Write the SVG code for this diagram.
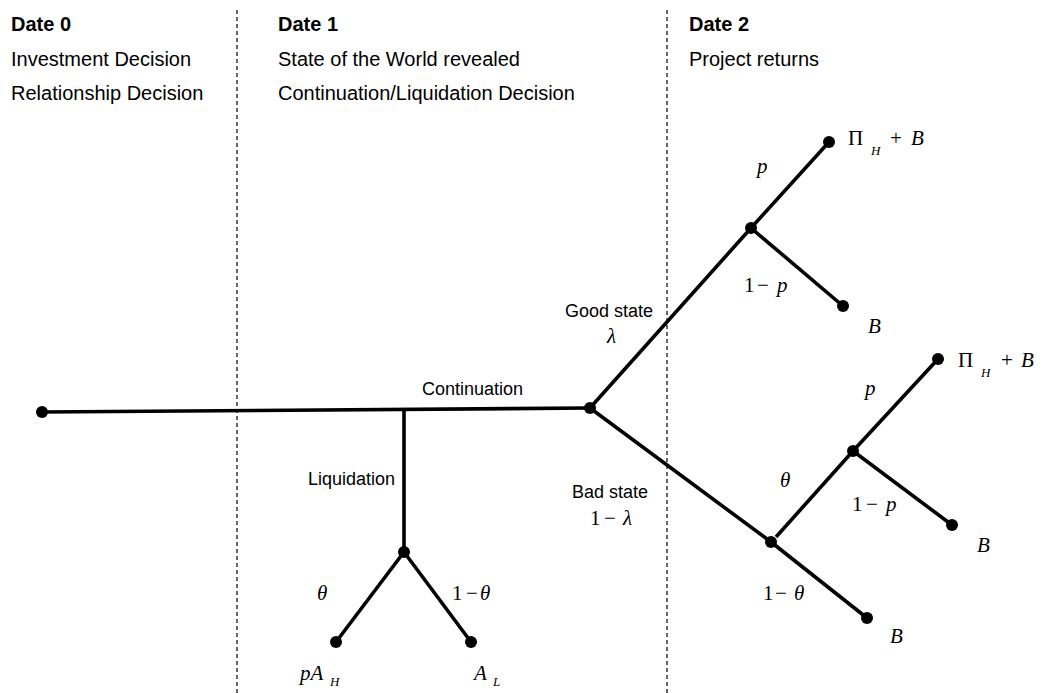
<svg xmlns="http://www.w3.org/2000/svg" width="1051" height="693" viewBox="0 0 1051 693">
<style>
.hd{font-family:"Liberation Sans",Arial,sans-serif;font-size:20px;fill:#000}
.hb{font-weight:bold}
.lb{font-family:"Liberation Sans",Arial,sans-serif;font-size:18px;fill:#000}
.m{font-family:"Liberation Serif","Times New Roman",serif;font-size:21px;font-style:italic;fill:#000}
.up{font-style:normal}
.sub{font-size:13px}
.dash{stroke:#000;stroke-width:1.2;stroke-dasharray:4 3;fill:none}
.e{stroke:#000;stroke-width:3.6;fill:none;stroke-linecap:butt}
.n{fill:#000}
</style>
<rect width="1051" height="693" fill="#fff"/>
<g id="dividers">
<line class="dash" x1="237" y1="10" x2="237" y2="693"/>
<line class="dash" x1="667" y1="10" x2="667" y2="693"/>
</g>
<g id="headers">
<text class="hd hb" x="11" y="31">Date 0</text>
<text class="hd" x="11" y="66">Investment Decision</text>
<text class="hd" x="11" y="100">Relationship Decision</text>
<text class="hd hb" x="278" y="31">Date 1</text>
<text class="hd" x="278" y="66">State of the World revealed</text>
<text class="hd" x="278" y="100">Continuation/Liquidation Decision</text>
<text class="hd hb" x="689" y="31">Date 2</text>
<text class="hd" x="689" y="66">Project returns</text>
</g>
<g id="connectors">
<line class="e" x1="42" y1="412" x2="590" y2="408"/>
<line class="e" x1="404" y1="409" x2="404" y2="552"/>
<line class="e" x1="404" y1="552" x2="336" y2="642"/>
<line class="e" x1="404" y1="552" x2="471" y2="642"/>
<line class="e" x1="590" y1="408" x2="751" y2="228"/>
<line class="e" x1="751" y1="228" x2="829" y2="142"/>
<line class="e" x1="751" y1="228" x2="843" y2="306"/>
<line class="e" x1="590" y1="408" x2="771" y2="542"/>
<line class="e" x1="776" y1="537" x2="853" y2="451"/>
<line class="e" x1="853" y1="451" x2="938" y2="359"/>
<line class="e" x1="853" y1="451" x2="952" y2="525"/>
<line class="e" x1="771" y1="542" x2="867" y2="618"/>
</g>
<g id="n-root"><circle class="n" cx="42" cy="412" r="6"/></g>
<g id="n-date1"><circle class="n" cx="590" cy="408" r="6"/><text class="lb" x="422" y="395">Continuation</text></g>
<g id="n-liq"><circle class="n" cx="404" cy="552" r="6"/><text class="lb" x="308" y="485">Liquidation</text></g>
<g id="n-liq-h"><circle class="n" cx="336" cy="642" r="6"/><text class="m" x="317" y="600">θ</text><text class="m" x="300" y="680">pA<tspan class="sub" x="330" y="686">H</tspan></text></g>
<g id="n-liq-l"><circle class="n" cx="471" cy="642" r="6"/><text class="m" y="600"><tspan class="up" x="452">1</tspan><tspan class="up" x="466">−</tspan><tspan x="480">θ</tspan></text><text class="m" x="474" y="680">A<tspan class="sub" x="493" y="686">L</tspan></text></g>
<g id="n-good"><circle class="n" cx="751" cy="228" r="6"/><text class="lb" x="565" y="317">Good state</text><text class="m" x="607" y="343">λ</text></g>
<g id="n-good-h"><circle class="n" cx="829" cy="142" r="6"/><text class="m" x="757" y="173">p</text><text class="m" y="145"><tspan class="up" x="848">Π</tspan><tspan class="sub" x="871" y="155">H</tspan><tspan class="up" x="890" y="145">+</tspan><tspan x="911">B</tspan></text></g>
<g id="n-good-l"><circle class="n" cx="843" cy="306" r="6"/><text class="m" y="292"><tspan class="up" x="744">1</tspan><tspan class="up" x="757">−</tspan><tspan x="777">p</tspan></text><text class="m" x="868" y="333">B</text></g>
<g id="n-bad"><circle class="n" cx="771" cy="542" r="6"/><text class="lb" x="572" y="498">Bad state</text><text class="m" y="525"><tspan class="up" x="590">1</tspan><tspan class="up" x="604">−</tspan><tspan x="623">λ</tspan></text></g>
<g id="n-bad-c"><circle class="n" cx="853" cy="451" r="6"/><text class="m" x="780" y="487">θ</text></g>
<g id="n-bad-h"><circle class="n" cx="938" cy="359" r="6"/><text class="m" x="865" y="395">p</text><text class="m" y="367"><tspan class="up" x="958">Π</tspan><tspan class="sub" x="981" y="377">H</tspan><tspan class="up" x="1001" y="367">+</tspan><tspan x="1021">B</tspan></text></g>
<g id="n-bad-l"><circle class="n" cx="952" cy="525" r="6"/><text class="m" y="511"><tspan class="up" x="852">1</tspan><tspan class="up" x="866">−</tspan><tspan x="886">p</tspan></text><text class="m" x="977" y="552">B</text></g>
<g id="n-bad-b"><circle class="n" cx="867" cy="618" r="6"/><text class="m" y="600"><tspan class="up" x="763">1</tspan><tspan class="up" x="775">−</tspan><tspan x="794">θ</tspan></text><text class="m" x="890" y="643">B</text></g>
</svg>
